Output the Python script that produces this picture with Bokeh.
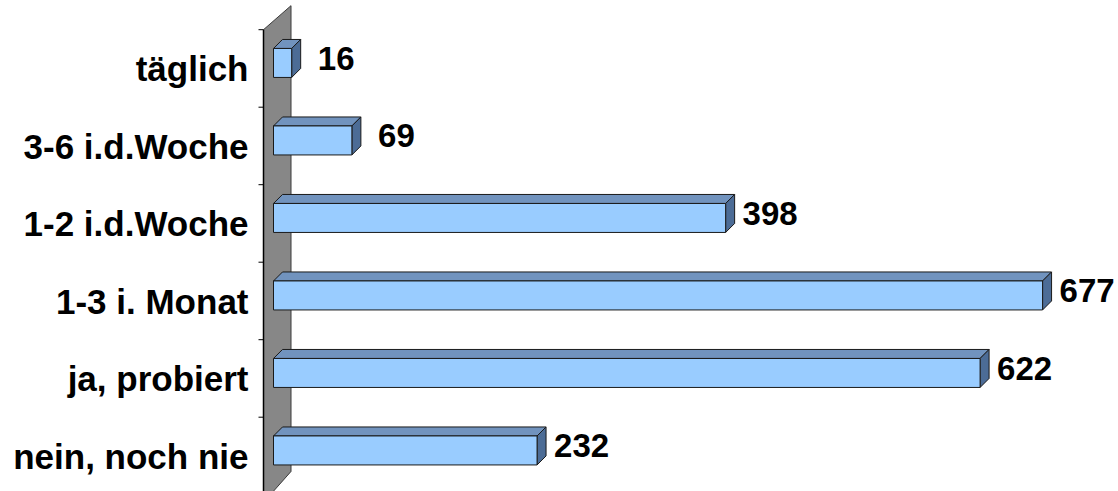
import numpy as np
from bokeh.plotting import figure
from bokeh.models import Range1d, ColumnDataSource
from bokeh.core.properties import value
from bokeh.embed import file_html
from bokeh.resources import INLINE

# ---- data (bottom row first) ----
categories = ["nein, noch nie", "ja, probiert", "1-3 i. Monat",
              "1-2 i.d.Woche", "3-6 i.d.Woche", "täglich"]
counts = [232, 622, 677, 398, 69, 16]
value_labels = [str(c) for c in counts]

# ---- layout constants ----
W, H = 1118, 491
PX_X = 1.136          # pixels per count unit
PX_Y = 77.5           # pixels per category row
ZERO_SCREEN = 273     # screen x of value 0
x_start = -ZERO_SCREEN / PX_X
x_end = x_start + W / PX_X
y_top = 494.2 / PX_Y
y_bottom = y_top - H / PX_Y
TEXT_FIX = 12         # px, empirical baseline correction

p = figure(width=W, height=H, x_range=Range1d(x_start, x_end),
           y_range=Range1d(y_bottom, y_top), output_backend="svg",
           toolbar_location=None, min_border=0)
p.xaxis.visible = False
p.yaxis.visible = False
p.grid.visible = False
p.outline_line_color = None
p.background_fill_color = "white"
p.border_fill_color = "white"

n = len(categories)
rows = np.arange(n)

# ---- gray side wall ----
wf = -10 / PX_X      # wall front x
wb = 17.5 / PX_X     # wall back x
p.patch(x=[wf, wf, wb, wb], y=[-0.1, n, n + 0.31, 0.3],
        fill_color="#878787", line_color="#3a3a3a", line_width=1)
p.line(x=[wf, wf], y=[-0.1, n], line_color="black", line_width=1.5)
# category boundary ticks
tick_y = np.arange(1, n + 1)
p.segment(x0=[wf - 5 / PX_X] * n, y0=tick_y, x1=[wf] * n, y1=tick_y,
          line_color="black", line_width=1)

# ---- 3D bars ----
dx = 9 / PX_X
dy = 9 / PX_Y
fb = rows + 0.384
ft = rows + 0.758
vals = np.array(counts, dtype=float)

top_xs = [[0, v, v + dx, dx] for v in vals]
top_ys = [[t, t, t + dy, t + dy] for t in ft]
side_xs = [[v, v + dx, v + dx, v] for v in vals]
side_ys = [[b, b + dy, t + dy, t] for b, t in zip(fb, ft)]

p.patches(xs=top_xs, ys=top_ys, fill_color="#7193BE",
          line_color="#1a1a1a", line_width=1)
p.patches(xs=side_xs, ys=side_ys, fill_color="#4C6C96",
          line_color="#1a1a1a", line_width=1)
p.quad(left=[0] * n, right=vals, bottom=fb, top=ft,
       fill_color="#99CCFF", line_color="#1a1a1a", line_width=1)

# ---- texts ----
font = value("Liberation Sans")
cat_src = ColumnDataSource(dict(x=[0] * n,
                                y=rows + 0.5 - (12.5 - TEXT_FIX) / PX_Y,
                                t=categories))
p.text(x="x", y="y", text="t", source=cat_src, x_offset=-25,
       text_align="right", text_baseline="alphabetic",
       text_font=font, text_font_style="bold", text_font_size="35px",
       text_color="black")

val_src = ColumnDataSource(dict(x=vals,
                                y=rows + 0.5 - (2 - TEXT_FIX) / PX_Y,
                                t=value_labels))
p.text(x="x", y="y", text="t", source=val_src, x_offset=44.5,
       text_align="center", text_baseline="alphabetic",
       text_font=font, text_font_style="bold", text_font_size="33px",
       text_color="black")

open("out.html", "w").write(file_html(p, INLINE))
